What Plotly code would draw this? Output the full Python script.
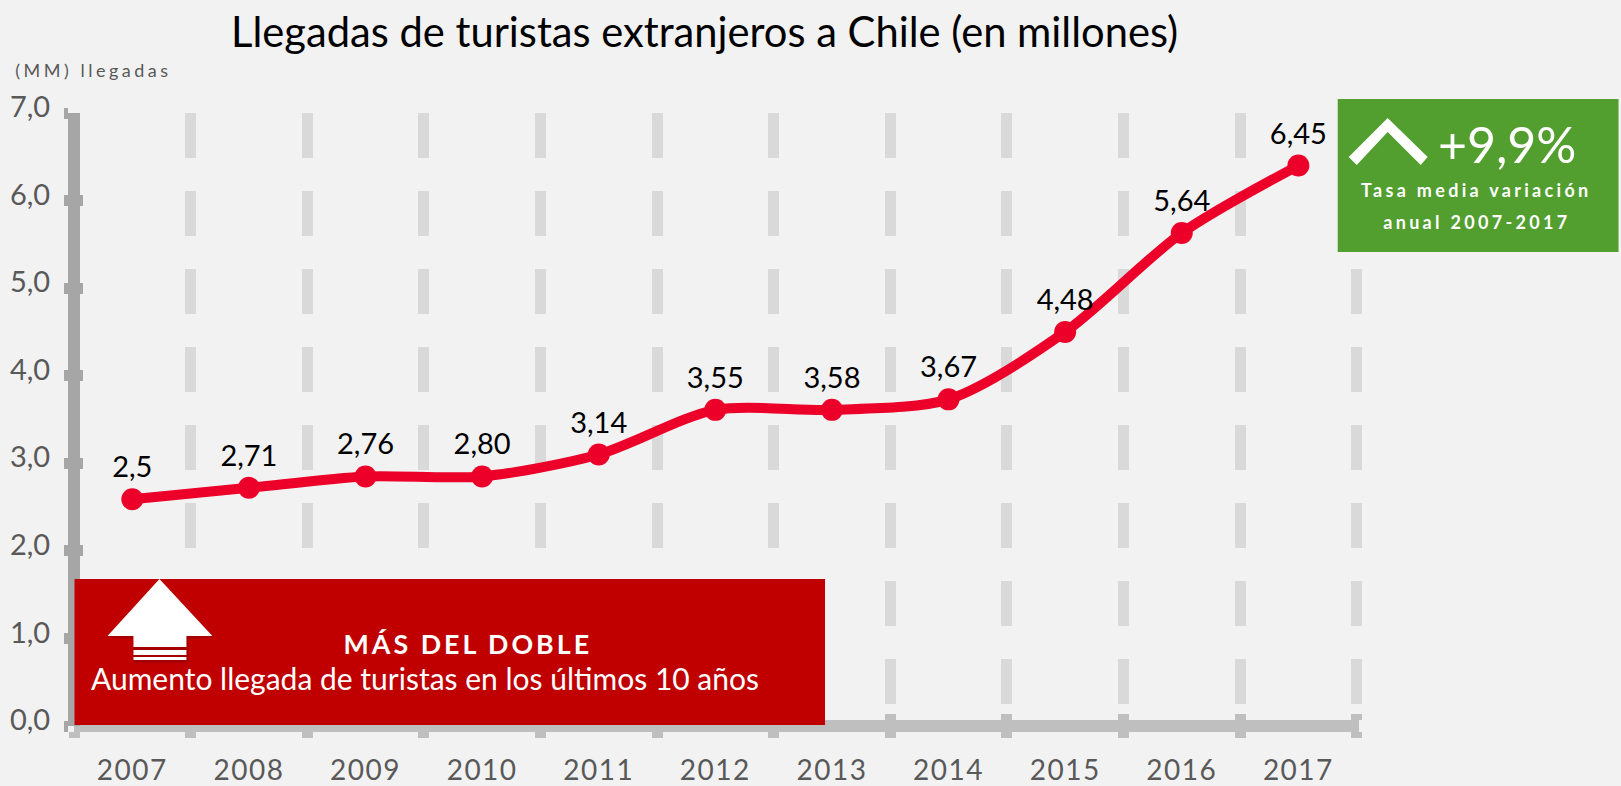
import plotly.graph_objects as go

years = ["2007", "2008", "2009", "2010", "2011", "2012", "2013", "2014", "2015", "2016", "2017"]
arrivals = [2.59, 2.72, 2.85, 2.85, 3.10, 3.61, 3.61, 3.73, 4.50, 5.63, 6.40]
point_labels = ["2,5", "2,71", "2,76", "2,80", "3,14", "3,55", "3,58", "3,67", "4,48", "5,64", "6,45"]
y_ticks = [0, 1, 2, 3, 4, 5, 6, 7]
y_tick_labels = ["0,0", "1,0", "2,0", "3,0", "4,0", "5,0", "6,0", "7,0"]

W, H = 1621, 786
L, R, T, B = 73.5, 1359.3, 113, 726
PW, PH = R - L, B - T


def X(p):
    return (p - L) / PW


def Y(p):
    return (B - p) / PH


def poly(points):
    return "M" + " L".join(f"{X(a):.5f},{Y(b):.5f}" for a, b in points) + " Z"


def rect(x0, y0, x1, y1, color, **kw):
    return dict(type="rect", xref="paper", yref="paper", x0=X(x0), x1=X(x1), y0=Y(y0), y1=Y(y1),
                fillcolor=color, line_width=0, layer="above", **kw)


def path(points, color, **kw):
    return dict(type="path", xref="paper", yref="paper", path=poly(points), fillcolor=color,
                line_width=0, layer="above", **kw)


def note(x, y, text, size, color="#FFFFFF", weight="normal"):
    return dict(xref="paper", yref="paper", x=X(x), y=Y(y), text=text, showarrow=False,
                xanchor="center", yanchor="middle",
                font=dict(family="Lato", size=size, color=color, weight=weight))


FONT = "Lato"
TICK_GREY = "#595959"
AX_Y = "#A6A6A6"
AX_X = "#BFBFBF"
AXW = 12

fig = go.Figure()
fig.add_trace(go.Scatter(
    x=years, y=arrivals, mode="lines+markers+text", text=point_labels, textposition="top center",
    textfont=dict(family=FONT, size=29, color="#000000"),
    line=dict(color="#EC0029", width=10, shape="spline", smoothing=0.8),
    marker=dict(color="#EC0029", size=22), hoverinfo="skip", cliponaxis=False, showlegend=False,
))
# Second, invisible trace: it carries the inner half of the crossing tick marks.
fig.add_trace(go.Scatter(x=years, y=arrivals, xaxis="x2", yaxis="y2", mode="lines", opacity=0,
                         hoverinfo="skip", showlegend=False))

shapes = [
    rect(1338, 99, 1619, 252, "#529E2F"),
    path([(1349, 157), (1388, 118), (1428, 157), (1421, 165), (1388, 132), (1357, 165)], "#FFFFFF"),
    rect(74, 579, 825, 725, "#C00000"),
    path([(105, 637), (159, 581), (214, 637), (188, 639), (188, 663), (133, 663), (133, 639)], "#8E0000", opacity=0.55),
    path([(107, 636), (159, 579), (212, 636), (186, 636), (186, 647), (133, 647), (133, 636)], "#FFFFFF"),
    rect(133, 650, 186, 655, "#FFFFFF"),
    rect(133, 657, 186, 660, "#FFFFFF"),
]

annotations = [
    note(704, 31, "Llegadas de turistas extranjeros a Chile (en millones)", 41.7, "#000000"),
    note(93, 70, "(MM) llegadas", 18, TICK_GREY),
    note(468, 644, "MÁS DEL DOBLE", 26.8, weight="bold"),
    note(425, 678, "Aumento llegada de turistas en los últimos 10 años", 30),
    note(1507, 144, "+9,9%", 50),
    note(1477, 190, "Tasa media variación", 18, weight="bold"),
    note(1477, 222, "anual 2007-2017", 18, weight="bold"),
]

x_common = dict(type="category", categoryorder="array", categoryarray=years, range=[-0.5, 10.52],
                tickson="boundaries", anchor="free", position=0, showline=True,
                linecolor=AX_X, linewidth=AXW, tickcolor=AX_X, tickwidth=11, zeroline=False)
y_common = dict(range=[0, 7], tickvals=y_ticks, anchor="free", position=0, showline=True,
                linecolor=AX_Y, linewidth=AXW, tickcolor=AX_Y, tickwidth=11, zeroline=False,
                showgrid=False)

fig.update_layout(
    width=W, height=H, margin=dict(l=L, r=W - R, t=T, b=H - B, pad=0, autoexpand=False),
    paper_bgcolor="#F2F2F2", plot_bgcolor="#F2F2F2", showlegend=False,
    shapes=shapes, annotations=annotations,
    xaxis=dict(**x_common, ticks="outside", ticklen=6, showgrid=True, gridcolor="#D9D9D9", gridwidth=11,
               griddash="45px,33px", tickfont=dict(family=FONT, size=28, color=TICK_GREY),
               ticklabelstandoff=14),
    yaxis=dict(**y_common, ticks="outside", ticklen=4, ticktext=y_tick_labels,
               tickfont=dict(family=FONT, size=29, color=TICK_GREY),
               ticklabelstandoff=8, ticklabelshift=-6),
    xaxis2=dict(**x_common, overlaying="x", ticks="inside", ticklen=6, showgrid=False, showticklabels=False),
    yaxis2=dict(**y_common, overlaying="y", ticks="inside", ticklen=3, showticklabels=False),
)

post = """
document.body.style.margin = '0';
document.documentElement.style.overflow = 'hidden';
var css = document.createElement('style');
css.textContent = '.xtick text{letter-spacing:1.5px}';
document.head.appendChild(css);
var spacing = {'(MM) llegadas': '3.5px', 'MÁS DEL DOBLE': '3px', 'Tasa media variación': '3.3px', 'anual 2007-2017': '3.3px'};
document.querySelectorAll('.annotation-text').forEach(function (t) {
  if (spacing[t.textContent]) { t.setAttribute('letter-spacing', spacing[t.textContent]); }
});
"""

fig.write_html("out.html", post_script=post, config=dict(displayModeBar=False))
